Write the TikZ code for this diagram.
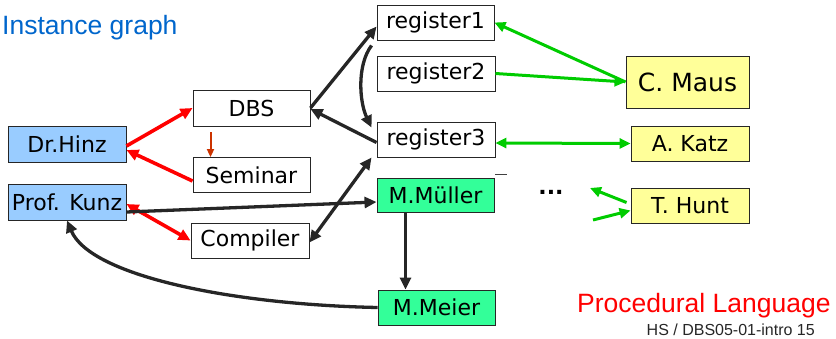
\documentclass[tikz,border=0pt]{standalone}
\usepackage{fontspec}
\setmainfont{Liberation Sans}
\newfontfamily\kastenfont{DejaVu Sans}
\usetikzlibrary{arrows.meta}
\definecolor{profblau}{HTML}{99CCFF}
\definecolor{studgruen}{HTML}{33FF99}
\definecolor{externgelb}{HTML}{FFFF99}
\definecolor{titelblau}{HTML}{0066CC}
\definecolor{pfeilgruen}{HTML}{00CC00}
\definecolor{pfeilbraun}{HTML}{CC3300}

\begin{document}
\begin{tikzpicture}[x=1pt, y=-1pt, >={Triangle[length=12pt, width=11pt]},
  kasten/.style={draw=black!85, line width=0.9pt, inner sep=0pt,
    font=\kastenfont\fontsize{22}{26}\selectfont},
  rot/.style={red, line width=3.6pt},
  schwarz/.style={black!85, line width=3.3pt},
  gruen/.style={pfeilgruen, line width=3pt, >={Triangle[length=11pt, width=10pt]}}]
  \useasboundingbox (0,0) rectangle (836,338);

  % Kaesten: Name / Mitte x / Mitte y / Breite / Hoehe / Farbe / Text
  \foreach \nn/\nx/\ny/\nw/\nh/\nfarbe/\ntext in {
    hinz/67/144/118pt/36pt/profblau/Dr.Hinz, kunz/67/202/118pt/36pt/profblau/Prof. Kunz,
    dbs/251.5/108/117pt/36pt/white/DBS, seminar/251.5/175/117pt/35pt/white/Seminar,
    compiler/250/240.5/118pt/35pt/white/Compiler,
    reg1/435.5/22.5/117pt/35pt/white/register1, reg2/436/73.5/118pt/35pt/white/register2,
    reg3/436/139.5/118pt/35pt/white/register3,
    mueller/435.5/195/117pt/34pt/studgruen/M.Müller, meier/436.5/307.5/117pt/35pt/studgruen/M.Meier,
    katz/690/143.5/118pt/35pt/externgelb/A. Katz, hunt/690/205.5/118pt/35pt/externgelb/T. Hunt}
  { \node[kasten, fill=\nfarbe, minimum width=\nw, minimum height=\nh] (\nn) at (\nx,\ny) {\ntext}; }
  \node[kasten, fill=externgelb, minimum width=123pt, minimum height=52pt,
    font=\kastenfont\fontsize{25}{28}\selectfont] (maus) at (687.5,82) {C. Maus};

  \node[anchor=base west, inner sep=0pt, titelblau, font=\fontsize{26.5}{30}\selectfont] (titel) at (2,34) {Instance graph};
  \node[anchor=base west, inner sep=0pt, red, font=\fontsize{26.5}{30}\selectfont] (sprache) at (577,312) {Procedural Language};
  \node[anchor=base east, inner sep=0pt, black!85, font=\fontsize{16}{18}\selectfont] (fuss) at (815,335) {HS / DBS05-01-intro 15};
  \node[anchor=base, inner sep=0pt, font=\kastenfont\bfseries\fontsize{22}{26}\selectfont] (punkte) at (551,194) {...};

  % rote Kanten
  \draw[rot, ->] ([yshift=-2pt]hinz.east) -- (dbs.west);
  \draw[rot, ->] ([yshift=-6pt]seminar.west) -- ([yshift=-6pt]hinz.east);
  \draw[rot, <->] ([yshift=-2pt]kunz.east) -- (compiler.west);
  \draw[pfeilbraun, line width=2pt, ->, >={Triangle[length=8pt, width=7pt]}]
    ([shift={(-41,6)}]dbs.south) -- ([xshift=-41pt]seminar.north);

  % schwarze Kanten
  \draw[schwarz, ->] (dbs.east) -- ([yshift=-4pt]reg1.west);
  \draw[schwarz, ->] ([yshift=-3pt]reg3.west) -- ([yshift=-1pt]dbs.east);
  \draw[schwarz, ->] ([shift={(-5,5)}]reg1.south west)
    .. controls +(-15,20) and +(-12,-25) .. ([shift={(-5,6)}]reg3.north west);
  \draw[schwarz, <->] ([yshift=-2pt]compiler.east) -- ([xshift=-5pt]reg3.south west);
  \draw[schwarz, ->] ([yshift=-10pt]kunz.east) -- ([yshift=-7pt]mueller.west);
  \draw[schwarz, ->] ([xshift=-30pt]mueller.south) -- ([xshift=-31pt]meier.north);
  \draw[schwarz, ->] (meier.west) .. controls +(-148,-3) and +(23,55) .. (kunz.south);
  \draw[black!75, line width=0.8pt] ([shift={(1,-3)}]mueller.north east) -- +(12,0);

  % gruene Kanten
  \draw[gruen, ->] (maus.west) -- (reg1.east);
  \draw[gruen, ->] (reg2.east) -- (maus.west);
  \draw[gruen, <->] ([yshift=-3.5pt]reg3.east) -- (katz.west);
  \coordinate (huntlinks) at (590,188);
  \coordinate (huntrein) at (593,220);
  \draw[gruen, ->] ([shift={(-4,-3)}]hunt.west) -- (huntlinks);
  \draw[gruen, ->] (huntrein) -- ([yshift=-5pt]hunt.west);
\end{tikzpicture}
\end{document}
